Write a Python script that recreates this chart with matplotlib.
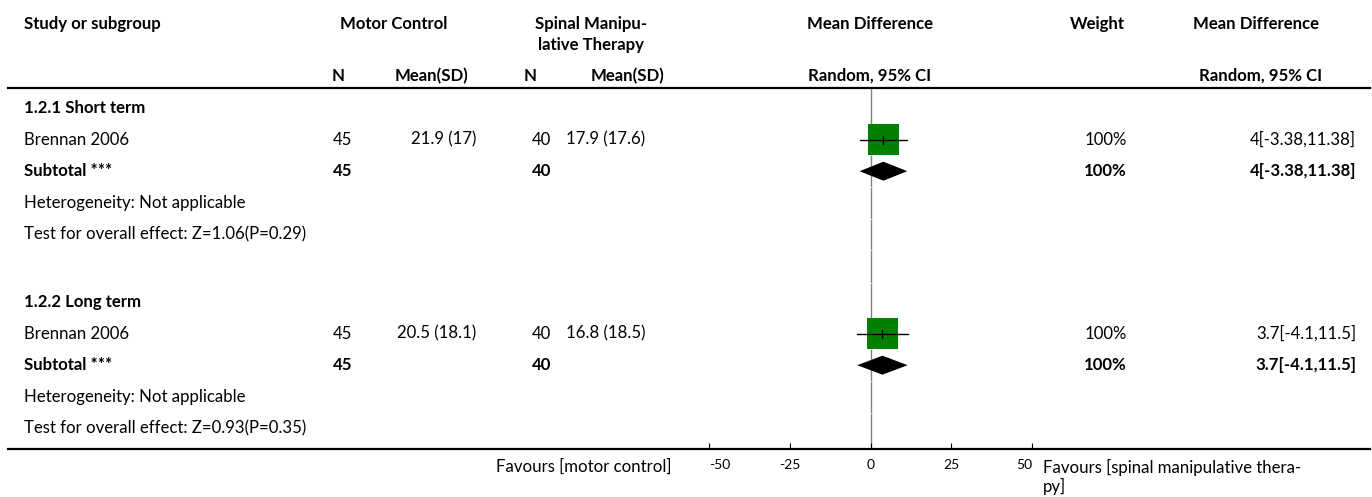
import matplotlib.pyplot as plt
from matplotlib.patches import Rectangle, Polygon

plt.rcParams['font.family'] = ['Lato', 'DejaVu Sans']

# subgroup data
groups = ["1.2.1 Short term", "1.2.2 Long term"]
studies = ["Brennan 2006", "Brennan 2006"]
mc_n = [45, 45]
mc_mean = [21.9, 20.5]
mc_sd = [17, 18.1]
smt_n = [40, 40]
smt_mean = [17.9, 16.8]
smt_sd = [17.6, 18.5]
md = [4, 3.7]
ci_lo = [-3.38, -4.1]
ci_hi = [11.38, 11.5]
weight = [100, 100]
overall_z = [1.06, 0.93]
overall_p = [0.29, 0.35]
xticks = [-50, -25, 0, 25, 50]

W, H = 1372, 497
fig = plt.figure(figsize=(W / 100, H / 100), dpi=100)
bg = fig.add_axes([0, 0, 1, 1])
bg.set_xlim(0, W)
bg.set_ylim(H, 0)
bg.axis('off')

FS = 12.1
head_kw = dict(fontsize=FS, fontweight='bold', va='center')

# column headers
bg.text(24, 24, "Study or subgroup", ha='left', **head_kw)
bg.text(394, 24, "Motor Control", ha='center', **head_kw)
bg.text(591, 24, "Spinal Manipu-", ha='center', **head_kw)
bg.text(591, 45, "lative Therapy", ha='center', **head_kw)
bg.text(870, 24, "Mean Difference", ha='center', **head_kw)
bg.text(1097, 24, "Weight", ha='center', **head_kw)
bg.text(1256, 24, "Mean Difference", ha='center', **head_kw)
bg.text(338, 76, "N", ha='center', **head_kw)
bg.text(432, 76, "Mean(SD)", ha='center', **head_kw)
bg.text(530, 76, "N", ha='center', **head_kw)
bg.text(628, 76, "Mean(SD)", ha='center', **head_kw)
bg.text(870, 76, "Random, 95% CI", ha='center', **head_kw)
bg.text(1322, 76, "Random, 95% CI", ha='right', **head_kw)
bg.plot([8, 1370], [88, 88], color='black', lw=1.6)
bg.plot([8, 1370], [449, 449], color='black', lw=1.6)

# forest panel on the mean-difference scale
fa = fig.add_axes([696 / W, (H - 449) / H, (1045 - 696) / W, (449 - 88) / H])
fa.set_xlim(-54, 54)
fa.set_ylim(449, 88)
for s in ['top', 'left', 'right']:
    fa.spines[s].set_visible(False)
fa.spines['bottom'].set_linewidth(1.2)
fa.set_yticks([])
fa.set_xticks(xticks)
fa.set_xticklabels([str(t) for t in xticks])
fa.tick_params(axis='x', direction='in', length=4, width=0.8, labelsize=10, pad=7)
# outermost labels are kept inside the axis ends
labels = fa.get_xticklabels()
labels[0].set_horizontalalignment('left')
labels[-1].set_horizontalalignment('right')
fa.patch.set_alpha(0)

px_per_unit = (1045 - 696) / 108.0

# row centres (pixels from top) for each subgroup block
block_top = [108, 302]
row_gap = 31.6

for g in range(len(groups)):
    y0 = block_top[g]
    y_study = y0 + row_gap
    y_sub = y0 + 2 * row_gap
    y_het = y0 + 3 * row_gap
    y_test = y0 + 4 * row_gap

    bg.text(24, y0, groups[g], ha='left', **head_kw)
    bg.text(24, y_study, studies[g], ha='left', va='center', fontsize=FS)
    bg.text(352, y_study, str(mc_n[g]), ha='right', va='center', fontsize=FS)
    bg.text(476, y_study, f"{mc_mean[g]:g} ({mc_sd[g]:g})", ha='right', va='center', fontsize=FS)
    bg.text(551, y_study, str(smt_n[g]), ha='right', va='center', fontsize=FS)
    bg.text(645, y_study, f"{smt_mean[g]:g} ({smt_sd[g]:g})", ha='right', va='center', fontsize=FS)
    bg.text(1127, y_study, f"{weight[g]}%", ha='right', va='center', fontsize=FS)
    ci_txt = f"{md[g]:g}[{ci_lo[g]:g},{ci_hi[g]:g}]"
    bg.text(1356, y_study, ci_txt, ha='right', va='center', fontsize=FS)

    bg.text(24, y_sub, "Subtotal ***", ha='left', **head_kw)
    bg.text(352, y_sub, str(mc_n[g]), ha='right', **head_kw)
    bg.text(551, y_sub, str(smt_n[g]), ha='right', **head_kw)
    bg.text(1127, y_sub, f"{weight[g]}%", ha='right', **head_kw)
    bg.text(1356, y_sub, ci_txt, ha='right', **head_kw)

    bg.text(24, y_het, "Heterogeneity: Not applicable", ha='left', va='center', fontsize=FS)
    bg.text(24, y_test, f"Test for overall effect: Z={overall_z[g]:g}(P={overall_p[g]:g})",
            ha='left', va='center', fontsize=FS)

    # study square with CI whisker
    half = 31 / 2 / px_per_unit
    fa.add_patch(Rectangle((md[g] - half, y_study - 15.5), 2 * half, 31,
                           facecolor='#008000', edgecolor='none', zorder=3))
    fa.plot([ci_lo[g], ci_hi[g]], [y_study, y_study], color='black', lw=1, zorder=4)
    fa.plot([md[g], md[g]], [y_study - 4, y_study + 4], color='black', lw=1, zorder=4)

    # pooled diamond
    fa.add_patch(Polygon([(ci_lo[g], y_sub), (md[g], y_sub - 9.5),
                          (ci_hi[g], y_sub), (md[g], y_sub + 9.5)],
                         closed=True, facecolor='black', edgecolor='none', zorder=3))

# line of no effect, broken between rows
edges = [88, 124, 155, 187, 219, 250, 283, 318, 349, 381, 413, 449]
for a, b in zip(edges[:-1], edges[1:]):
    fa.plot([0, 0], [a + 1, b - 1], color='#808080', lw=1, zorder=1)

bg.text(672, 467, "Favours [motor control]", ha='right', va='center', fontsize=FS)
bg.text(1043, 467, "Favours [spinal manipulative thera-", ha='left', va='center', fontsize=FS)
bg.text(1043, 486, "py]", ha='left', va='center', fontsize=FS)

fig.savefig("out.png", dpi=100)
